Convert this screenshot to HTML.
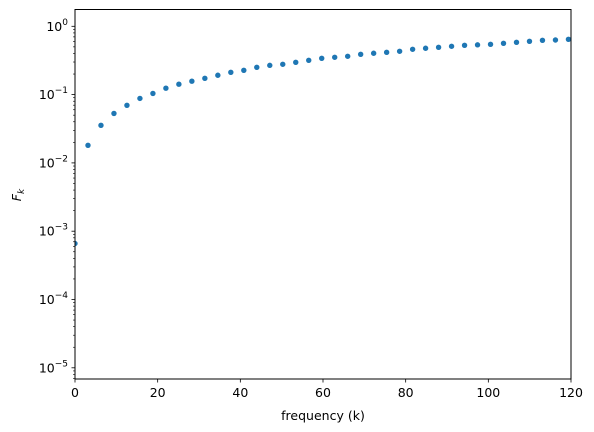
<!DOCTYPE html>
<html><head><meta charset="utf-8"><style>
html,body{margin:0;padding:0;background:#fff;}
svg{display:block;font-family:"DejaVu Sans","Liberation Sans",sans-serif;}
</style></head><body>
<svg id="chart" width="594" height="432" viewBox="0 0 594 432">
<defs><clipPath id="clip"><rect x="75" y="9.5" width="496" height="369.5"/></clipPath></defs>
<g id="pts" clip-path="url(#clip)"></g>
<g id="axes"></g>
<rect x="75" y="9.5" width="496" height="369.5" fill="none" stroke="#000" stroke-width="1"/>
<text x="323" y="420" font-size="12.5" text-anchor="middle">frequency (k)</text>
<text transform="translate(21,195) rotate(-90)" font-size="12.5" text-anchor="middle" font-style="italic">F<tspan font-size="9" dy="3">k</tspan></text>
</svg>
<script>
const xTicks=[0,20,40,60,80,100,120];
const yDecades=[0,-1,-2,-3,-4,-5];
const fValues=[0.00066,0.0181,0.0355,0.053,0.0697,0.088,0.104,0.124,0.142,0.157,0.173,0.192,0.212,0.227,0.251,0.268,0.278,0.297,0.318,0.340,0.352,0.364,0.389,0.403,0.416,0.431,0.461,0.477,0.493,0.510,0.527,0.535,0.545,0.564,0.583,0.603,0.624,0.63,0.645];
const kValues=fValues.map((_,i)=>i*Math.PI);
const NS='http://www.w3.org/2000/svg';
const X0=75,X1=571,XMIN=0,XMAX=120;
const Y0DEC=26.3,DEC=68.3,YB=379,YT=9.5;
function sx(v){return X0+(v-XMIN)/(XMAX-XMIN)*(X1-X0);}
function sy(v){return Y0DEC-Math.log10(v)*DEC;}
function mk(tag,attrs,parent){const e=document.createElementNS(NS,tag);for(const k in attrs)e.setAttribute(k,attrs[k]);parent.appendChild(e);return e;}
const pts=document.getElementById('pts'),ax=document.getElementById('axes');
fValues.forEach((f,i)=>{
  const c=mk('circle',{cx:sx(kValues[i]),cy:sy(f),r:2.7,fill:'#1f77b4'},pts);
  
  
});
xTicks.forEach(t=>{
  const x=sx(t);
  const l=mk('line',{x1:x,x2:x,y1:YB,y2:YB+3.5,stroke:'#000','stroke-width':0.8},ax);
  
  
  const tx=mk('text',{x:x,y:YB+18,'font-size':12.5,'text-anchor':'middle'},ax);
  tx.textContent=String(t);
  
  
});
yDecades.forEach(d=>{
  const y=sy(Math.pow(10,d));
  const l=mk('line',{x1:X0-3.5,x2:X0,y1:y,y2:y,stroke:'#000','stroke-width':0.8},ax);
  
  
  const tx=mk('text',{x:X0-7,y:y+4.5,'font-size':12.5,'text-anchor':'end'},ax);
  tx.innerHTML=d===0?'10<tspan font-size="9" dy="-6">0</tspan>':'10<tspan font-size="9" dy="-6">\u2212'+(-d)+'</tspan>';
  
  
});
for(let d=-6;d<=0;d++){for(let m=2;m<=9;m++){
  const y=sy(m*Math.pow(10,d));
  if(y<YT||y>YB)continue;
  const l=mk('line',{x1:X0-2,x2:X0,y1:y,y2:y,stroke:'#000','stroke-width':0.6},ax);
  
  
}}
</script>
</body></html>
